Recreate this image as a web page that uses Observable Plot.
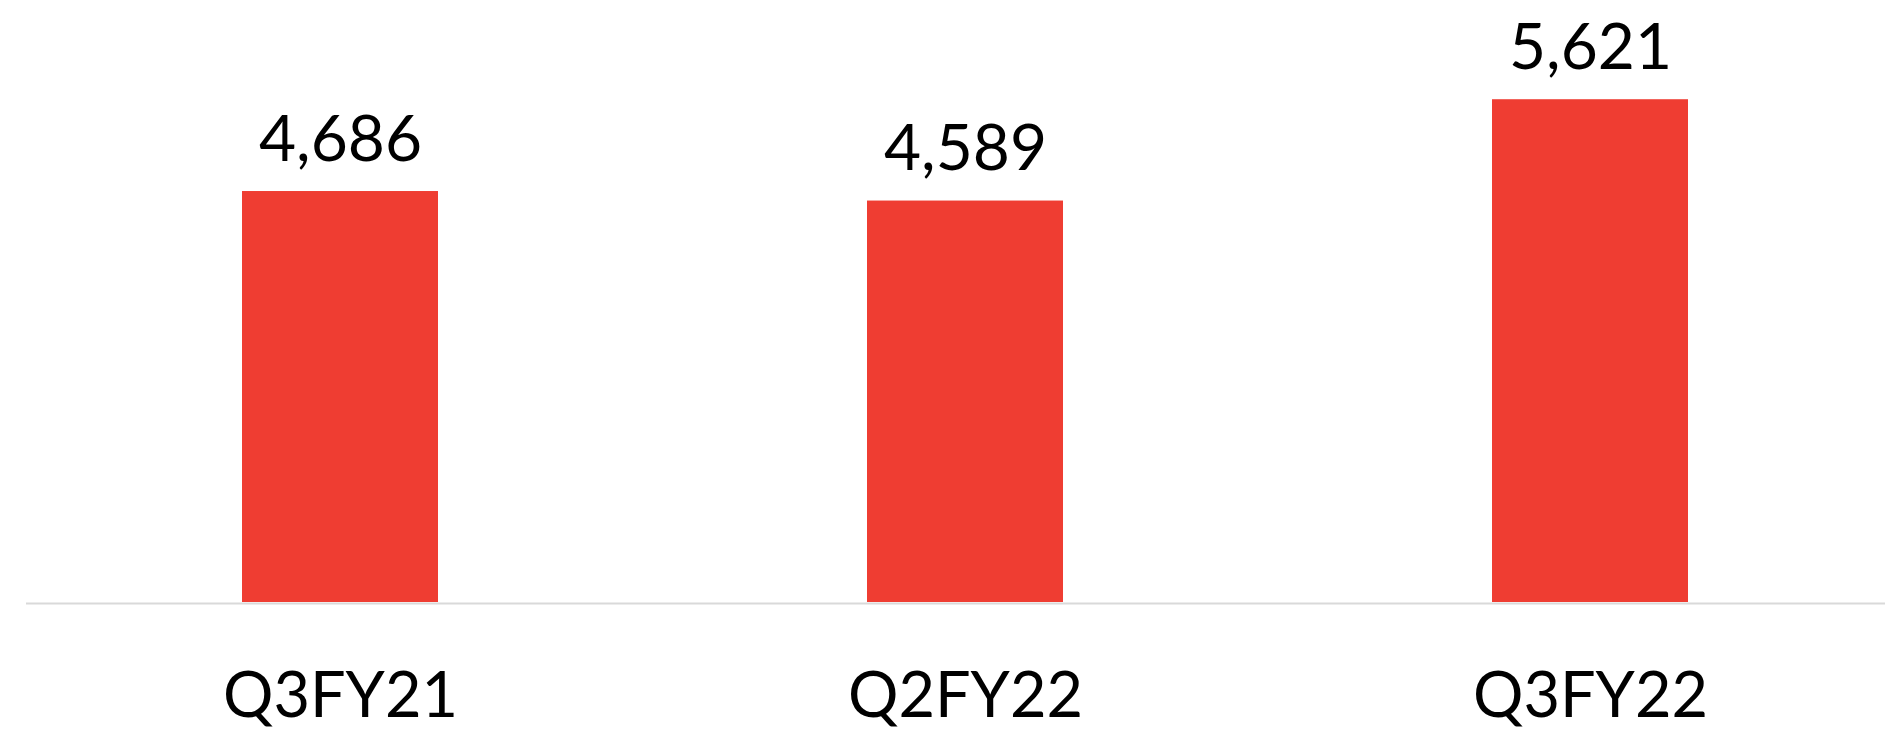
<!DOCTYPE html>
<html>
<head>
<meta charset="utf-8">
<script src="https://cdn.jsdelivr.net/npm/d3@7"></script>
<script src="https://cdn.jsdelivr.net/npm/@observablehq/plot@0.6"></script>
<style>
  html, body { margin: 0; padding: 0; background: #ffffff; }
  #chart svg { display: block; }
</style>
</head>
<body>
<div id="chart"></div>
<script>
const quarters = ["Q3FY21", "Q2FY22", "Q3FY22"];
const values = [4686, 4589, 5621];
const valueLabels = ["4,686", "4,589", "5,621"];

const data = quarters.map((q, i) => ({q, v: values[i], label: valueLabels[i]}));

const chart = Plot.plot({
  width: 1885,
  height: 732,
  marginTop: 0,
  marginBottom: 130,
  marginLeft: 26,
  marginRight: 0,
  style: {fontFamily: "Lato", color: "#000000", background: "#ffffff"},
  x: {domain: quarters, range: [241, 1689], paddingInner: 0.686, paddingOuter: 0, label: null},
  y: {domain: [500, 6631.6], clamp: true, axis: null},
  marks: [
    Plot.ruleY([500], {stroke: "#d9d9d9", strokeWidth: 2, dy: 1}),
    Plot.barY(data, {x: "q", y: "v", fill: "#ef3d32"}),
    Plot.text(data, {x: "q", y: "v", text: "label", dy: -31, lineAnchor: "bottom", textAnchor: "middle", fontSize: 64, fill: "#000000"}),
    Plot.axisX({tickSize: 0, tickPadding: 70, fontSize: 63, fill: "#000000", label: null})
  ]
});
document.getElementById("chart").append(chart);
</script>
</body>
</html>
